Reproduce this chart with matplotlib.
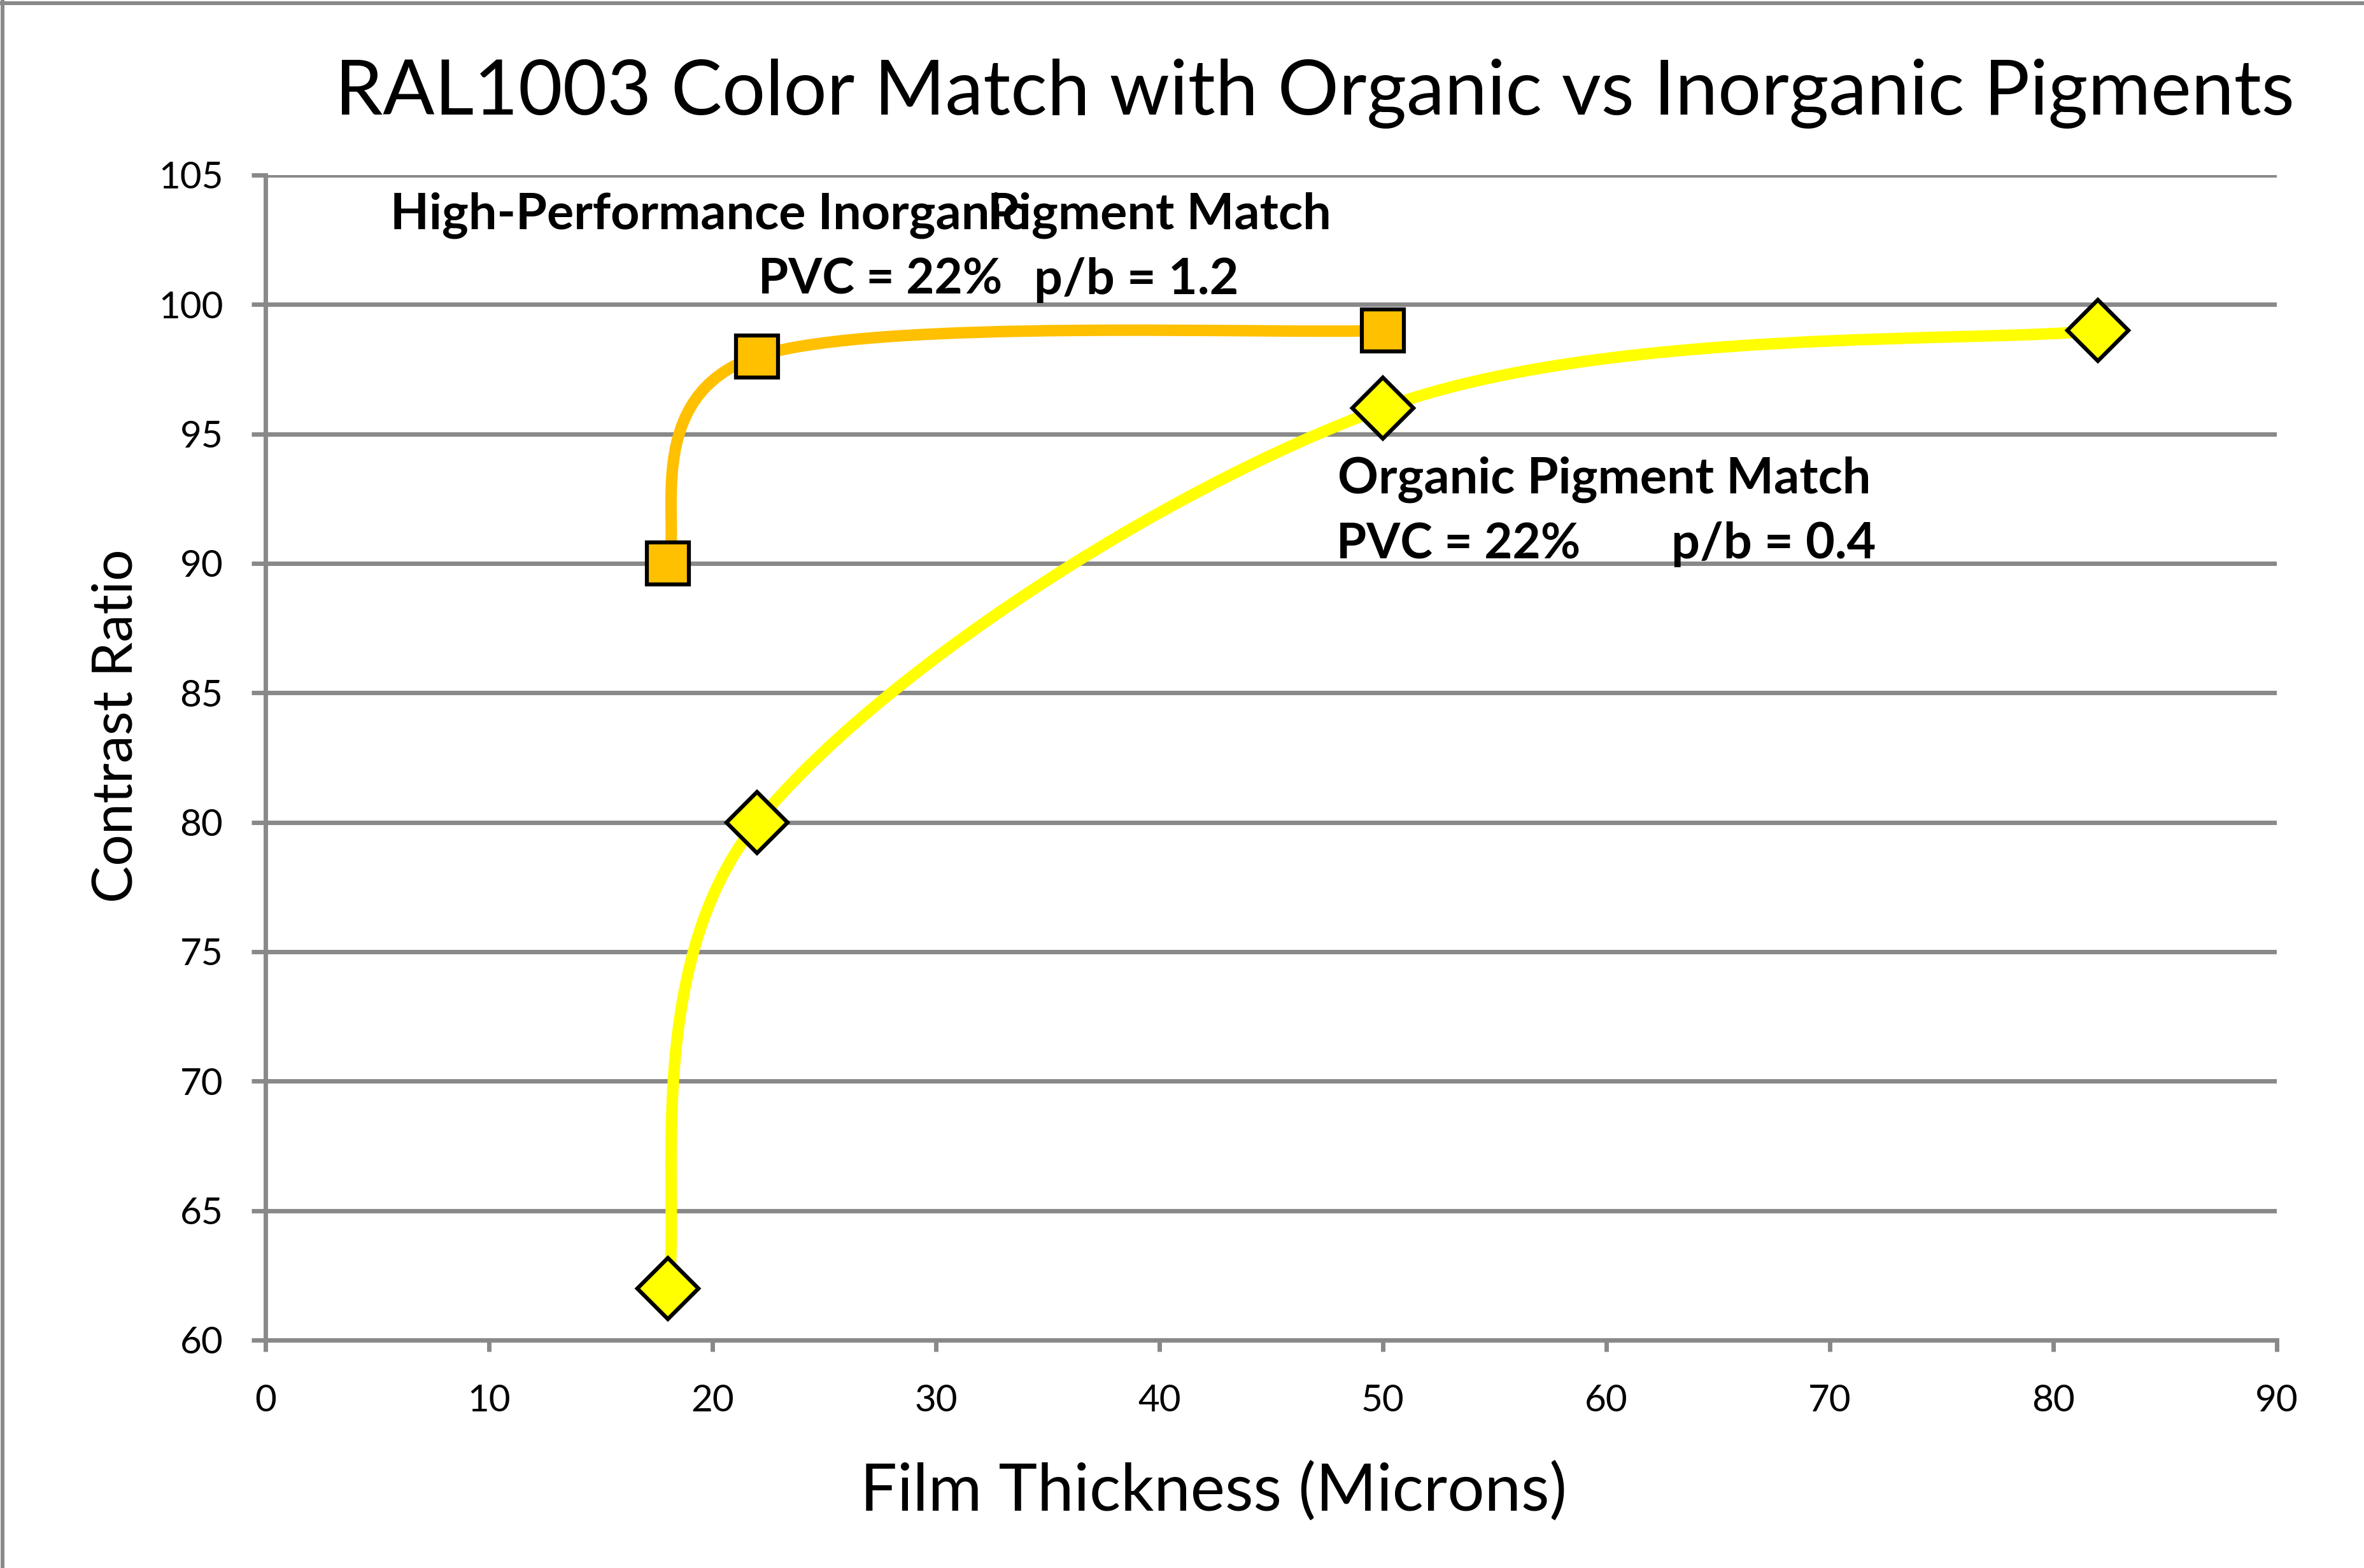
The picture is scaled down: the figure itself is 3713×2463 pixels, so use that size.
import numpy as np
import matplotlib.pyplot as plt
from matplotlib.path import Path
from matplotlib.patches import PathPatch
from matplotlib.lines import Line2D

# Dados
inorg_x = [18, 22, 50]
inorg_y = [90, 98, 99]
org_x = [18, 22, 50, 82]
org_y = [62, 80, 96, 99]

x_ticks = list(range(0, 91, 10))
y_ticks = list(range(60, 106, 5))

title = 'RAL1003 Color Match with Organic vs Inorganic Pigments'
x_label = 'Film Thickness (Microns)'
y_label = 'Contrast Ratio'

W, H = 3713, 2463
GRAY = '#898989'
ORANGE = '#FFC000'
YELLOW = '#FFFF00'

plt.rcParams['font.family'] = ['Lato', 'DejaVu Sans']


def fx(px):
  return px / W


def fy(py):
  return 1 - py / H


def smooth_path(xs, ys):
  '''
  Linha suavizada estilo Excel (Catmull-Rom como Bezier cubica)
  '''
  pts = np.column_stack([xs, ys]).astype(float)
  ext = np.vstack([pts[0], pts, pts[-1]])
  verts = [pts[0]]
  codes = [Path.MOVETO]
  for i in range(len(pts) - 1):
    p0, p1, p2, p3 = ext[i], ext[i + 1], ext[i + 2], ext[i + 3]
    verts += [p1 + (p2 - p0) / 6, p2 - (p3 - p1) / 6, p2]
    codes += [Path.CURVE4] * 3
  return Path(verts, codes)


fig = plt.figure(figsize=(W / 100, H / 100), dpi=100)
ax = fig.add_axes([fx(417), fy(2105), (3576 - 417) / W, (2105 - 275) / H])

ax.set_xlim(0, 90)
ax.set_ylim(60, 105)
ax.set_xticks(x_ticks)
ax.set_yticks(y_ticks)

# Grade e eixos cinza
ax.grid(axis='y', color=GRAY, linewidth=5)
ax.set_axisbelow(True)
for side in ['top', 'right']:
  ax.spines[side].set_visible(False)
for side in ['left', 'bottom']:
  ax.spines[side].set_color(GRAY)
  ax.spines[side].set_linewidth(5)
ax.tick_params(axis='y', direction='out', length=16, width=5, color=GRAY,
               labelsize=42, pad=32)
ax.tick_params(axis='x', direction='out', length=13, width=5, color=GRAY,
               labelsize=42, pad=37)

# Curvas suavizadas
ax.add_patch(PathPatch(smooth_path(inorg_x, inorg_y), facecolor='none',
                       edgecolor=ORANGE, linewidth=13, capstyle='round', zorder=3))
ax.add_patch(PathPatch(smooth_path(org_x, org_y), facecolor='none',
                       edgecolor=YELLOW, linewidth=13, capstyle='round', zorder=3))

# Marcadores
ax.plot(inorg_x, inorg_y, linestyle='none', marker='s', markersize=48,
        markerfacecolor=ORANGE, markeredgecolor='black', markeredgewidth=4.5,
        zorder=4, clip_on=False)
ax.plot(org_x, org_y, linestyle='none', marker='D', markersize=49,
        markerfacecolor=YELLOW, markeredgecolor='black', markeredgewidth=4.5,
        zorder=4, clip_on=False)

# Textos
fig.text(fx(526), fy(180), title, ha='left', va='baseline', fontsize=86.5)
fig.text(fx(1906), fy(2373), x_label, ha='center', va='baseline', fontsize=74)
fig.text(fx(207), fy(1140), y_label, ha='center', va='baseline', rotation=90,
         fontsize=63, rotation_mode='anchor')

# Caixas de texto (sobreposicao igual a original)
fig.text(fx(613), fy(360), 'High-Performance Inorganic', ha='left', va='baseline',
         fontsize=57, fontweight='bold')
fig.text(fx(1551), fy(360), 'Pigment Match', ha='left', va='baseline',
         fontsize=57, fontweight='bold')
fig.text(fx(1191), fy(462), 'PVC = 22%', ha='left', va='baseline',
         fontsize=55, fontweight='bold')
fig.text(fx(1624), fy(462), 'p/b = 1.2', ha='left', va='baseline',
         fontsize=57, fontweight='bold')
fig.text(fx(2101), fy(775), 'Organic Pigment Match', ha='left', va='baseline',
         fontsize=57, fontweight='bold')
fig.text(fx(2099), fy(877), 'PVC = 22%', ha='left', va='baseline',
         fontsize=55, fontweight='bold')
fig.text(fx(2625), fy(877), 'p/b = 0.4', ha='left', va='baseline',
         fontsize=57, fontweight='bold')

# Borda da figura (topo e esquerda)
fig.add_artist(Line2D([0, 1], [fy(4.5), fy(4.5)], color=GRAY, linewidth=4.3,
                      transform=fig.transFigure))
fig.add_artist(Line2D([fx(4), fx(4)], [0, 1], color=GRAY, linewidth=4.3,
                      transform=fig.transFigure))

fig.savefig('out.png', dpi=100)
plt.close()
